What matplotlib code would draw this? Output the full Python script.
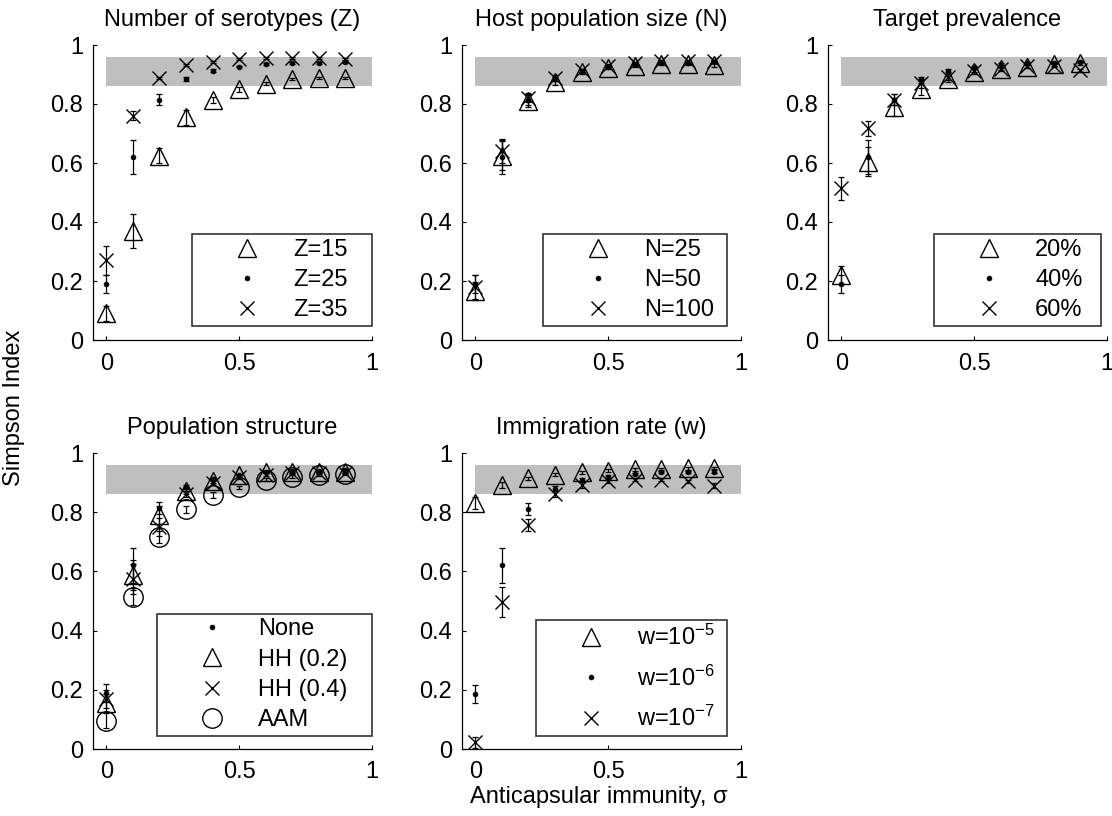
import matplotlib
matplotlib.use("Agg")
from matplotlib import pyplot as plt
import numpy as np

plt.rcParams['font.family'] = ['Liberation Sans', 'DejaVu Sans']
plt.rcParams['mathtext.fontset'] = 'custom'
plt.rcParams['mathtext.rm'] = 'Liberation Sans'
plt.rcParams['mathtext.it'] = 'Liberation Sans:italic'

# anticapsular immunity values (x axis)
sigma = [0.0, 0.1, 0.2, 0.3, 0.4, 0.5, 0.6, 0.7, 0.8, 0.9]

# baseline run (Z=25, N=50, 40%, no structure)
base_mean = [0.19, 0.62, 0.815, 0.885, 0.913, 0.927, 0.935, 0.94, 0.94, 0.942]
base_err = [0.03, 0.058, 0.02, 0.006, 0.004, 0.003, 0.003, 0.003, 0.003, 0.003]

# number of serotypes
z15_mean = [0.09, 0.37, 0.625, 0.755, 0.815, 0.85, 0.868, 0.885, 0.888, 0.888]
z15_err = [0.025, 0.058, 0.025, 0.025, 0.01, 0.008, 0.005, 0.003, 0.003, 0.003]
z35_mean = [0.27, 0.76, 0.889, 0.932, 0.943, 0.952, 0.955, 0.955, 0.955, 0.953]
z35_err = [0.05, 0.015, 0.004, 0.003, 0.003, 0.003, 0.003, 0.003, 0.003, 0.003]

# host population size
n25_mean = [0.165, 0.625, 0.81, 0.876, 0.908, 0.922, 0.93, 0.935, 0.937, 0.932]
n25_err = [0.03, 0.05, 0.02, 0.01, 0.006, 0.005, 0.004, 0.004, 0.004, 0.008]
n100_mean = [0.18, 0.64, 0.822, 0.888, 0.915, 0.93, 0.94, 0.945, 0.945, 0.945]
n100_err = [0.04, 0.04, 0.015, 0.01, 0.005, 0.004, 0.004, 0.004, 0.004, 0.004]

# target prevalence
p20_mean = [0.22, 0.605, 0.79, 0.852, 0.885, 0.91, 0.918, 0.927, 0.935, 0.938]
p20_err = [0.03, 0.05, 0.03, 0.02, 0.01, 0.008, 0.005, 0.005, 0.005, 0.005]
p60_mean = [0.514, 0.718, 0.815, 0.87, 0.893, 0.913, 0.92, 0.928, 0.93, 0.915]
p60_err = [0.038, 0.025, 0.02, 0.015, 0.01, 0.006, 0.005, 0.005, 0.005, 0.005]

# population structure
hh02_mean = [0.155, 0.588, 0.79, 0.873, 0.905, 0.925, 0.935, 0.937, 0.937, 0.937]
hh02_err = [0.03, 0.05, 0.03, 0.01, 0.008, 0.005, 0.004, 0.004, 0.004, 0.004]
hh04_mean = [0.17, 0.575, 0.75, 0.86, 0.9, 0.918, 0.927, 0.932, 0.933, 0.933]
hh04_err = [0.03, 0.05, 0.03, 0.01, 0.008, 0.005, 0.004, 0.004, 0.004, 0.004]
aam_mean = [0.096, 0.515, 0.715, 0.81, 0.858, 0.885, 0.91, 0.92, 0.927, 0.93]
aam_err = [0.025, 0.03, 0.02, 0.012, 0.01, 0.005, 0.004, 0.004, 0.004, 0.004]

# immigration rate
w5_mean = [0.83, 0.893, 0.915, 0.927, 0.935, 0.94, 0.945, 0.947, 0.948, 0.95]
w5_err = [0.02, 0.01, 0.005, 0.005, 0.005, 0.005, 0.005, 0.004, 0.004, 0.004]
w6_mean = [0.186, 0.62, 0.81, 0.88, 0.91, 0.92, 0.93, 0.935, 0.935, 0.937]
w6_err = [0.03, 0.06, 0.02, 0.01, 0.006, 0.005, 0.004, 0.004, 0.004, 0.004]
w7_mean = [0.022, 0.497, 0.757, 0.862, 0.893, 0.905, 0.91, 0.91, 0.905, 0.89]
w7_err = [0.02, 0.05, 0.02, 0.01, 0.01, 0.005, 0.005, 0.005, 0.005, 0.008]

band_lo, band_hi = 0.86, 0.96

FS = 17
marker_style = {
    'tri': dict(marker='^', ms=13, mfc='none', mec='k', mew=1.0),
    'dot': dict(marker='o', ms=3.5, mfc='k', mec='k', mew=0.5),
    'cross': dict(marker='x', ms=10, mfc='none', mec='k', mew=1.0),
    'circ': dict(marker='o', ms=14, mfc='none', mec='k', mew=1.0),
}


def panel(ax, title, series, legend_labels, leg_box, spacing=0.35):
    ax.fill_between([0, 1], band_lo, band_hi, color='0.75', lw=0, zorder=0)
    handles = []
    for mean, err, kind in series:
        ax.errorbar(sigma, mean, yerr=err, fmt='none', ecolor='k',
                    elinewidth=0.9, capsize=2.5, capthick=0.9, zorder=2)
        p, = ax.plot(sigma, mean, ls='none', zorder=3, **marker_style[kind])
        handles.append(p)
    ax.set_xlim(-0.05, 1)
    ax.set_ylim(0, 1)
    ax.set_xticks([0, 0.5, 1])
    ax.set_xticklabels(['0', '0.5', '1'])
    ax.set_yticks([0, 0.2, 0.4, 0.6, 0.8, 1])
    ax.set_yticklabels(['0', '0.2', '0.4', '0.6', '0.8', '1'])
    ax.tick_params(direction='in', length=3, width=0.8, labelsize=FS)
    ax.tick_params(axis='x', pad=9)
    ax.tick_params(axis='y', pad=7)
    for s in ['top', 'right']:
        ax.spines[s].set_visible(False)
    for s in ['left', 'bottom']:
        ax.spines[s].set_linewidth(0.9)
    ax.set_title(title, fontsize=FS, pad=14)
    leg = ax.legend(handles, legend_labels, loc='lower left', mode='expand',
                    bbox_to_anchor=leg_box, fontsize=FS,
                    frameon=True, fancybox=False, edgecolor='k',
                    handlelength=4.26, handletextpad=-0.18,
                    borderpad=0.2, labelspacing=spacing, borderaxespad=0.0)
    leg.get_frame().set_linewidth(1.2)


fig = plt.figure(figsize=(11.12, 8.16), dpi=100)
W, H = 1112.0, 816.0


def add_axes(left, top, right, bottom):
    return fig.add_axes([left / W, 1 - bottom / H, (right - left) / W, (bottom - top) / H])


ax1 = add_axes(93, 45, 372, 340)
ax2 = add_axes(462, 45, 741, 340)
ax3 = add_axes(828, 45, 1107, 340)
ax4 = add_axes(93, 453, 372, 749)
ax5 = add_axes(462, 453, 741, 749)

panel(ax1, 'Number of serotypes (Z)',
      [(z15_mean, z15_err, 'tri'), (base_mean, base_err, 'dot'), (z35_mean, z35_err, 'cross')],
      ['Z=15', 'Z=25', 'Z=35'], (0.355, 0.047, 0.645, 0.3))
panel(ax2, 'Host population size (N)',
      [(n25_mean, n25_err, 'tri'), (base_mean, base_err, 'dot'), (n100_mean, n100_err, 'cross')],
      ['N=25', 'N=50', 'N=100'], (0.29, 0.047, 0.66, 0.3))
panel(ax3, 'Target prevalence',
      [(p20_mean, p20_err, 'tri'), (base_mean, base_err, 'dot'), (p60_mean, p60_err, 'cross')],
      ['20%', '40%', '60%'], (0.38, 0.047, 0.6, 0.3))
panel(ax4, 'Population structure',
      [(base_mean, base_err, 'dot'), (hh02_mean, hh02_err, 'tri'),
       (hh04_mean, hh04_err, 'cross'), (aam_mean, aam_err, 'circ')],
      ['None', 'HH (0.2)', 'HH (0.4)', 'AAM'], (0.229, 0.044, 0.771, 0.4))
panel(ax5, 'Immigration rate (w)',
      [(w5_mean, w5_err, 'tri'), (w6_mean, w6_err, 'dot'), (w7_mean, w7_err, 'cross')],
      ['w=10$^{-5}$', 'w=10$^{-6}$', 'w=10$^{-7}$'], (0.265, 0.044, 0.685, 0.3), spacing=0.65)

fig.text(14 / W, 0.5, 'Simpson Index', rotation=90, va='center', ha='center', fontsize=FS)
fig.text(599 / W, 1 - 797 / H, 'Anticapsular immunity, σ', va='center', ha='center', fontsize=FS)

fig.savefig('out.png', dpi=100)
